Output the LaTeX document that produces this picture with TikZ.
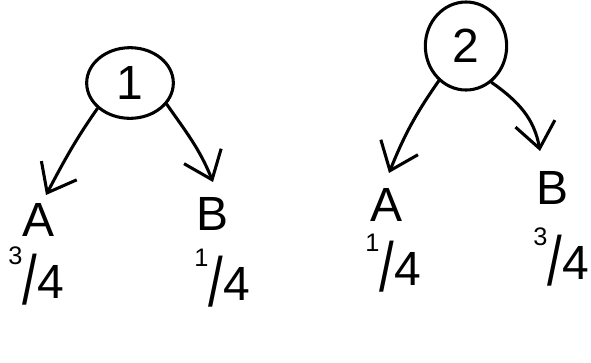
\documentclass[tikz,border=0pt]{standalone}
\usepackage{fontspec}
\setmainfont{Liberation Sans}
\usetikzlibrary{arrows.meta,shapes.geometric}
\newcommand\hfr[2]{\raisebox{0.7em}{\fontsize{19}{19}\selectfont #1}\raisebox{-0.12em}{\scalebox{1.1}[1.45]{/}}#2}
\tikzset{
  ink/.style={line width=2.3pt, line cap=round, line join=round},
  lbl/.style={font=\fontsize{36}{40}\selectfont, inner sep=0pt},
  state/.style={ink, draw, ellipse, inner sep=0pt, font=\fontsize{36}{40}\selectfont},
  arr/.style={ink, -{Straight Barb[length=19pt,width=30pt,line width=2.3pt]}}
}
\begin{document}
\begin{tikzpicture}[x=0.75pt,y=-0.75pt]
\useasboundingbox (0,0) rectangle (591,362);
% tree 1
\node[state, minimum width=65pt, minimum height=53pt] (c1) at (130,83) {1};
\node[lbl] (A1) at (39,220) {A};
\node[lbl] (B1) at (213,214) {B};
\node[lbl] (f1) at (36,276) {\hfr{3}{4}};
\node[lbl] (g1) at (222,278) {\hfr{1}{4}};
\coordinate (tA1) at (46,195);
\coordinate (tB1) at (213,182);
\draw[arr] (c1.218) to[out=235,in=62] (tA1);
\draw[arr] (c1.330) to[out=-55,in=112] (tB1);
% tree 2
\node[state, minimum width=61pt, minimum height=66pt] (c2) at (466,46) {2};
\node[lbl] (A2) at (386,205) {A};
\node[lbl] (B2) at (552,188) {B};
\node[lbl] (f2) at (393,263) {\hfr{1}{4}};
\node[lbl] (g2) at (561,257) {\hfr{3}{4}};
\coordinate (tA2) at (389,173);
\coordinate (tB2) at (540,151);
\draw[arr] (c2.232) to[out=235,in=68] (tA2);
\draw[arr] (c2.305) to[out=-35,in=100] (tB2);
\end{tikzpicture}
\end{document}
